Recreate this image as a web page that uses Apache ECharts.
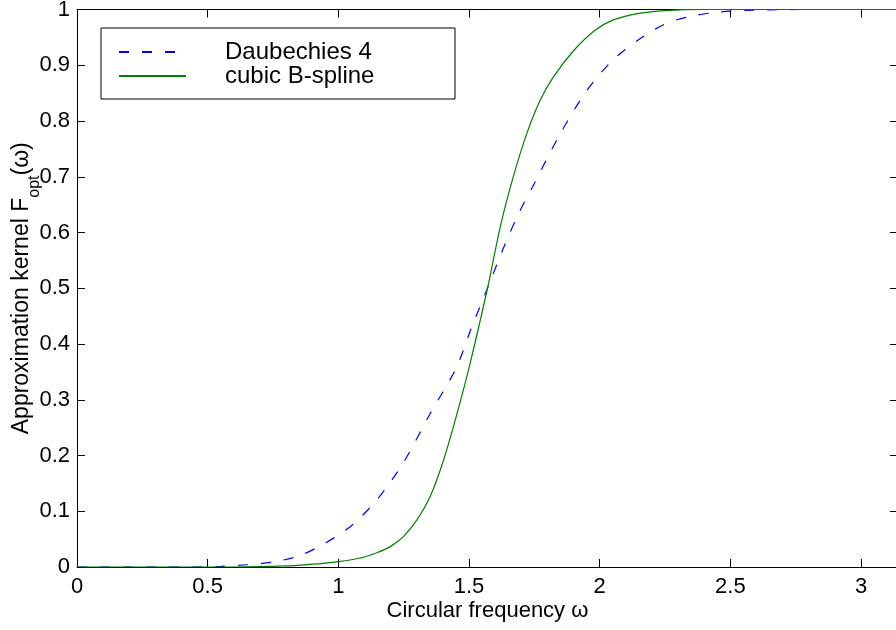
<!DOCTYPE html>
<html>
<head>
<meta charset="utf-8">
<script src="https://cdn.jsdelivr.net/npm/echarts@6/dist/echarts.min.js"></script>
<style>
html,body{margin:0;padding:0;background:#fff;}
#chart{width:896px;height:630px;}
</style>
</head>
<body>
<div id="chart"></div>
<script>
// Daubechies 4 (blue dashed)
const daubW = [0, 0.45, 0.55, 0.65, 0.75, 0.85, 0.95, 1.05, 1.15, 1.25, 1.35, 1.45, 1.51, 1.5708, 1.63, 1.69, 1.75, 1.85, 1.95, 2.05, 2.15, 2.25, 2.35, 2.45, 2.6, 2.8, 3.1416];
const daubV = [0, 0, 0.0012, 0.004, 0.009, 0.020, 0.043, 0.074, 0.122, 0.188, 0.274, 0.356, 0.430, 0.5, 0.570, 0.634, 0.688, 0.778, 0.854, 0.909, 0.946, 0.974, 0.988, 0.995, 0.999, 1, 1];
// cubic B-spline (green solid)
const splW = [0, 0.6, 0.8, 0.9, 0.95, 1.0, 1.05, 1.1, 1.15, 1.2, 1.25, 1.3, 1.35, 1.4, 1.45, 1.5, 1.5708, 1.62, 1.67, 1.72, 1.77, 1.82, 1.9, 1.98, 2.05, 2.15, 2.25, 2.4, 3.1416];
const splV = [0, 0, 0.002, 0.005, 0.007, 0.0095, 0.013, 0.018, 0.026, 0.037, 0.055, 0.084, 0.125, 0.188, 0.268, 0.357, 0.5, 0.611, 0.701, 0.776, 0.835, 0.877, 0.926, 0.962, 0.981, 0.993, 0.998, 1, 1];
const seriesNames = ['Daubechies 4', 'cubic B-spline'];
const xTickStep = 0.5;
const yTickStep = 0.1;

const FONT = 'Liberation Sans, Arial, Helvetica, sans-serif';
const FS = 22;
const FL = 24;
const zip = (a, b) => a.map((v, i) => [v, b[i]]);

const chart = echarts.init(document.getElementById('chart'), null, {renderer: 'canvas'});
const axisCommon = {
  axisLine: {show: true, onZero: false, lineStyle: {color: '#000', width: 1}},
  axisTick: {show: true, inside: true, length: 8, lineStyle: {color: '#000', width: 1}},
  splitLine: {show: false}
};
chart.setOption({
  animation: false,
  backgroundColor: '#fff',
  grid: {left: 77, top: 9.5, width: 821, height: 557.5, containLabel: false, outerBoundsMode: 'none'},
  legend: {
    left: 101, top: 28,
    orient: 'vertical',
    backgroundColor: '#fff',
    borderColor: '#000', borderWidth: 1,
    padding: [12, 8, 11, 17],
    itemWidth: 67, itemHeight: 14, itemGap: 0,
    itemStyle: {opacity: 0},
    textStyle: {fontFamily: FONT, fontSize: FL, color: '#000', lineHeight: 23, width: 222, padding: [0, 0, 0, 34]},
    data: seriesNames
  },
  xAxis: [{
    type: 'value', min: 0, max: Math.PI, interval: xTickStep, position: 'bottom',
    ...axisCommon,
    axisLabel: {show: true, margin: 9, fontFamily: FONT, fontSize: FS, color: '#000',
      formatter: v => (Math.abs(v / xTickStep - Math.round(v / xTickStep)) < 1e-6 ? String(Math.round(v * 10) / 10) : '')},
    name: 'Circular frequency ω', nameLocation: 'middle', nameGap: 33, nameMoveOverlap: false,
    nameTextStyle: {fontFamily: FONT, fontSize: FS, color: '#000'}
  }, {
    type: 'value', min: 0, max: Math.PI, interval: xTickStep, position: 'top',
    ...axisCommon, axisLabel: {show: false}
  }],
  yAxis: [{
    type: 'value', min: 0, max: 1, interval: yTickStep, position: 'left',
    ...axisCommon,
    axisLabel: {show: true, margin: 7, fontFamily: FONT, fontSize: FS, color: '#000',
      formatter: v => String(Math.round(v * 10) / 10)},
    name: '{n|Approximation kernel F}{s|opt}{n|(ω)}', nameLocation: 'middle', nameGap: 34, nameRotate: 90,
    nameMoveOverlap: false,
    nameTextStyle: {fontFamily: FONT, fontSize: 23, color: '#000',
      rich: {
        n: {fontFamily: FONT, fontSize: 23, color: '#000', lineHeight: 42},
        s: {fontFamily: FONT, fontSize: 16, color: '#000', lineHeight: 42, verticalAlign: 'bottom'}
      }}
  }, {
    type: 'value', min: 0, max: 1, interval: yTickStep, position: 'right',
    ...axisCommon, axisLabel: {show: false}
  }],
  series: [{
    name: seriesNames[0], type: 'line', xAxisIndex: 0, yAxisIndex: 0,
    data: zip(daubW, daubV), showSymbol: false, symbol: 'none',
    smooth: 0.3,
    lineStyle: {color: '#0000ff', width: 1.2, type: [10, 13]},
    itemStyle: {color: '#0000ff'}
  }, {
    name: seriesNames[1], type: 'line', xAxisIndex: 0, yAxisIndex: 0,
    data: zip(splW, splV), showSymbol: false, symbol: 'none',
    smooth: 0.3,
    lineStyle: {color: '#008000', width: 1.2, type: 'solid'},
    itemStyle: {color: '#008000'}
  }]
});
</script>
</body>
</html>
